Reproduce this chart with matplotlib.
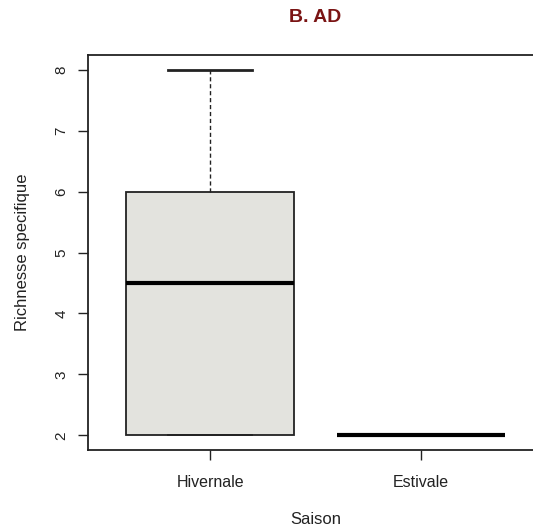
import matplotlib
matplotlib.use("Agg")
import matplotlib.pyplot as plt

plt.rcParams['font.family'] = ['Liberation Sans', 'DejaVu Sans']

# summary values
saisons = ['Hivernale', 'Estivale']
mins = [2, 2]
q1s = [2, 2]
medians = [4.5, 2]
q3s = [6, 2]
maxs = [8, 2]
yticks = [2, 3, 4, 5, 6, 7, 8]

stats = []
for name, lo, a, m, b, hi in zip(saisons, mins, q1s, medians, q3s, maxs):
    stats.append({'label': name, 'whislo': lo, 'q1': a, 'med': m,
                  'q3': b, 'whishi': hi, 'fliers': []})

fig = plt.figure(figsize=(5.33, 5.31), dpi=100)
# axes runs slightly past the right edge, like the cropped original
ax = fig.add_axes([88 / 533, 81 / 531, 455 / 533, 395 / 531])

bp = ax.bxp(stats, positions=[1, 2], widths=0.8, patch_artist=True,
            showfliers=False,
            boxprops=dict(facecolor='#e3e3de', edgecolor='#222222', linewidth=1.3),
            medianprops=dict(color='black', linewidth=3.0),
            whiskerprops=dict(color='#222222', linewidth=1.0, linestyle=(0, (3, 2))),
            capprops=dict(color='#222222', linewidth=2.0),
            capwidths=0.4)
# lower staples sit on the box edge; keep them under it
for i, cap in enumerate(bp['caps']):
    if i % 2 == 0:
        cap.set_linewidth(1.3)

ax.set_xlim(0.42, 2.58)
ax.set_ylim(1.76, 8.24)
ax.set_yticks(yticks)
ax.set_yticklabels([str(v) for v in yticks], rotation=90, va='center', fontsize=11, color='#222222')
ax.set_xticks([1, 2])
ax.set_xticklabels(saisons, fontsize=11.5, color='#222222')
ax.tick_params(axis='both', direction='out', length=7, width=1, color='#222222')
ax.tick_params(axis='y', pad=7)
ax.tick_params(axis='x', pad=11)
for s in ax.spines.values():
    s.set_linewidth(1.3)
    s.set_color('#222222')

ax.set_ylabel('Richnesse specifique', fontsize=12, color='#222222', labelpad=18)
ax.set_xlabel('Saison', fontsize=12, color='#222222', labelpad=16)
fig.text(315 / 533, 1 - 18 / 531, 'B. AD', ha='center', va='center',
         fontsize=14, fontweight='bold', color='#7a1414')

fig.savefig('out.png', dpi=100)
